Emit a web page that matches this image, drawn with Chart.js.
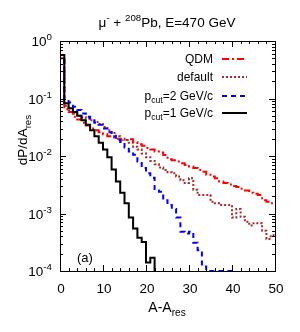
<!DOCTYPE html>
<html>
<head>
<meta charset="utf-8">
<script src="https://cdn.jsdelivr.net/npm/chart.js@4/dist/chart.umd.min.js"></script>
<style>html,body{margin:0;padding:0;background:#fff}</style>
</head>
<body>
<canvas id="resGraph" width="300" height="332"></canvas>
<script>
// histogram values, one per unit bin of A-A_res starting at 0
const qdmValues = [0.5, 0.065, 0.058, 0.048, 0.043, 0.038, 0.034, 0.03, 0.028, 0.026,
  0.024, 0.022, 0.021, 0.02, 0.019, 0.019, 0.0195, 0.0175, 0.016, 0.015,
  0.0138, 0.013, 0.012, 0.0115, 0.0104, 0.0088, 0.0084, 0.008, 0.0075, 0.007,
  0.0066, 0.0062, 0.0057, 0.0053, 0.0047, 0.0044, 0.0041, 0.0036, 0.0034, 0.0032,
  0.003, 0.0029, 0.0027, 0.0025, 0.0023, 0.0022, 0.0021, 0.0017, 0.0016, 0.0015];
const defaultValues = [0.5, 0.075, 0.062, 0.055, 0.05, 0.047, 0.045, 0.042, 0.039, 0.036,
  0.032, 0.028, 0.025, 0.022, 0.02, 0.019, 0.017, 0.0145, 0.013, 0.011,
  0.0095, 0.0082, 0.0072, 0.0063, 0.0057, 0.0052, 0.005, 0.0044, 0.0038, 0.0034,
  0.0041, 0.0026, 0.0021, 0.0021, 0.0021, 0.0016, 0.0015, 0.0014, 0.0014, 0.0014,
  0.00085, 0.0012, 0.00088, 0.00072, 0.00062, 0.00068, 0.00068, 0.0005, 0.00036, 0.00042];
const pcut2Values = [0.5, 0.095, 0.085, 0.072, 0.063, 0.055, 0.048, 0.042, 0.038, 0.035,
  0.03, 0.026, 0.022, 0.019, 0.0175, 0.014, 0.012, 0.0105, 0.008, 0.0062,
  0.005, 0.0042, 0.0025, 0.0024, 0.0017, 0.0014, 0.0012, 0.00085, 0.00048, 0.00045,
  0.00048, 0.00031, 0.00023, 0.00012, 0.0001, 0.0001, 0.0001, 0.0001, 0.0001, 0.0001,
  0.0001];
const pcut1Values = [0.57, 0.083, 0.068, 0.058, 0.05, 0.042, 0.035, 0.028, 0.022, 0.017,
  0.013, 0.0095, 0.0058, 0.0036, 0.0023, 0.0015, 0.00085, 0.00055, 0.00038, 0.00032,
  0.00014, 0.00017];

const xTickLabels = [0, 10, 20, 30, 40, 50];
const yTickExponents = [0, -1, -2, -3, -4];

const FLOOR = 1e-6;
const FONT = '"Liberation Sans", Arial, sans-serif';

// turn bin values into points for a stepped line (bin left edges)
function toSteps(values, dropAtEnd) {
  const pts = [{x: 0, y: FLOOR}];
  values.forEach((v, i) => pts.push({x: i, y: v}));
  pts.push({x: values.length, y: dropAtEnd ? FLOOR : values[values.length - 1]});
  return pts;
}

// draws text made of normal / sup / sub pieces
function drawRich(ctx, parts, x, y, align, size) {
  const small = size * 0.72;
  let w = 0;
  parts.forEach(p => {
    ctx.font = (p.sup || p.sub ? small : size) + 'px ' + FONT;
    p.w = ctx.measureText(p.t).width;
    w += p.w;
  });
  let cx = align === 'center' ? x - w / 2 : align === 'right' ? x - w : x;
  ctx.textAlign = 'left';
  ctx.textBaseline = 'alphabetic';
  parts.forEach(p => {
    ctx.font = (p.sup || p.sub ? small : size) + 'px ' + FONT;
    let dy = p.sup ? -size * 0.42 : p.sub ? size * 0.28 : 0;
    ctx.fillText(p.t, cx, y + dy);
    cx += p.w;
  });
}

const series = [
  {label: [{t: 'p'}, {t: 'cut', sub: true}, {t: '=1 GeV/c'}], values: pcut1Values, color: '#000000', dash: [], drop: true},
  {label: [{t: 'p'}, {t: 'cut', sub: true}, {t: '=2 GeV/c'}], values: pcut2Values, color: '#0000ff', dash: [5, 4], drop: true},
  {label: [{t: 'default'}], values: defaultValues, color: '#a52a2a', dash: [2, 2], drop: false},
  {label: [{t: 'QDM'}], values: qdmValues, color: '#ff0000', dash: [7, 3, 2, 3], drop: false},
];

const framePlugin = {
  id: 'frame',
  afterDraw(chart) {
    const ctx = chart.ctx;
    const area = chart.chartArea;
    const xs = chart.scales.x;
    const ys = chart.scales.y;
    ctx.save();
    ctx.strokeStyle = '#000';
    ctx.fillStyle = '#000';
    ctx.lineWidth = 1;
    ctx.strokeRect(area.left + 0.5, area.top + 0.5, area.right - area.left, area.bottom - area.top);

    // inward ticks on all sides
    ctx.beginPath();
    for (let v = 0; v <= 50; v += 2) {
      const px = Math.round(xs.getPixelForValue(v)) + 0.5;
      const len = v % 10 === 0 ? 6 : 3;
      ctx.moveTo(px, area.bottom); ctx.lineTo(px, area.bottom - len);
      ctx.moveTo(px, area.top); ctx.lineTo(px, area.top + len);
    }
    for (let d = -4; d <= 0; d++) {
      for (let k = 1; k <= 9; k++) {
        if (d === 0 && k > 1) break;
        const py = Math.round(ys.getPixelForValue(k * Math.pow(10, d))) + 0.5;
        const len = k === 1 ? 6 : 3;
        ctx.moveTo(area.left, py); ctx.lineTo(area.left + len, py);
        ctx.moveTo(area.right, py); ctx.lineTo(area.right - len, py);
      }
    }
    ctx.stroke();

    // tick labels
    xTickLabels.forEach(v => {
      drawRich(ctx, [{t: String(v)}], xs.getPixelForValue(v) + 1, area.bottom + 22, 'center', 13.5);
    });
    yTickExponents.forEach(e => {
      drawRich(ctx, [{t: '10'}, {t: String(e), sup: true}], area.left - 8, ys.getPixelForValue(Math.pow(10, e)) + 5, 'right', 13.5);
    });

    // titles
    drawRich(ctx, [{t: 'μ'}, {t: '-', sup: true}, {t: ' + '}, {t: '208', sup: true}, {t: 'Pb, E=470 GeV'}], 167, 27, 'center', 13.5);
    drawRich(ctx, [{t: 'A-A'}, {t: 'res', sub: true}], 167, 312, 'center', 14);
    ctx.save();
    ctx.translate(27, 140);
    ctx.rotate(-Math.PI / 2);
    drawRich(ctx, [{t: 'dP/dA'}, {t: 'res', sub: true}], 0, 0, 'center', 13.5);
    ctx.restore();
    drawRich(ctx, [{t: '(a)'}], 77, 262, 'left', 13);

    // legend, drawn in the reverse order of the datasets
    const legendRows = [63, 81, 100, 117];
    series.slice().reverse().forEach((s, i) => {
      const y = legendRows[i];
      drawRich(ctx, s.label, 213, y, 'right', 12);
      ctx.beginPath();
      ctx.strokeStyle = s.color;
      ctx.lineWidth = 2;
      ctx.setLineDash(s.dash);
      ctx.moveTo(222, y - 4);
      ctx.lineTo(247, y - 4);
      ctx.stroke();
      ctx.setLineDash([]);
    });
    ctx.restore();
  }
};

new Chart(document.getElementById('resGraph').getContext('2d'), {
  type: 'line',
  data: {
    datasets: series.map(s => ({
      data: toSteps(s.values, s.drop),
      borderColor: s.color,
      borderDash: s.dash,
      borderWidth: 2,
      stepped: true,
      pointRadius: 0,
      fill: false,
    }))
  },
  options: {
    responsive: false,
    animation: false,
    devicePixelRatio: 1,
    layout: {padding: {left: 60, right: 25, top: 41, bottom: 61}},
    plugins: {legend: {display: false}, tooltip: {enabled: false}},
    scales: {
      x: {type: 'linear', min: 0, max: 50, display: false},
      y: {type: 'logarithmic', min: 1e-4, max: 1, display: false},
    },
  },
  plugins: [framePlugin],
});
</script>
</body>
</html>
